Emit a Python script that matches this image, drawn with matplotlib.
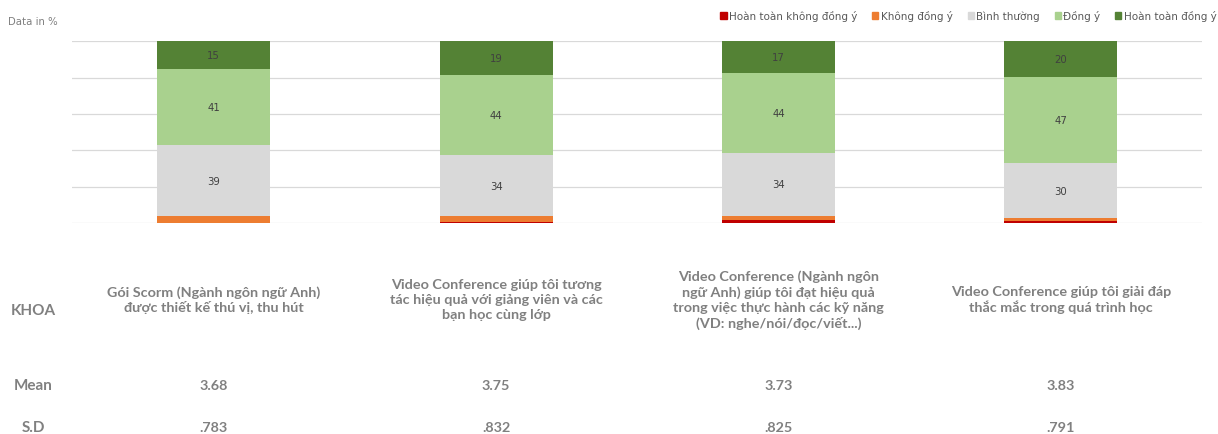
import matplotlib.pyplot as plt
from matplotlib.patches import Patch
from matplotlib.transforms import blended_transform_factory

# survey items (table header row)
items = [
    "Gói Scorm (Ngành ngôn ngữ Anh)\nđược thiết kế thú vị, thu hút",
    "Video Conference giúp tôi tương\ntác hiệu quả với giảng viên và các\nbạn học cùng lớp",
    "Video Conference (Ngành ngôn\nngữ Anh) giúp tôi đạt hiệu quả\ntrong việc thực hành các kỹ năng\n(VD: nghe/nói/đọc/viết...)",
    "Video Conference giúp tôi giải đáp\nthắc mắc trong quá trình học",
]
levels = ["Hoàn toàn không đồng ý", "Không đồng ý", "Bình thường", "Đồng ý", "Hoàn toàn đồng ý"]

# percentages per level, one value per item
strongly_disagree = [0.0, 0.8, 2.0, 1.0]
disagree = [3.8, 3.0, 2.2, 2.0]
neutral = [39.4, 33.8, 34.3, 30.0]
agree = [41.4, 43.8, 44.2, 47.3]
strongly_agree = [15.4, 18.6, 17.3, 19.7]

means = ["3.68", "3.75", "3.73", "3.83"]
sds = [".783", ".832", ".825", ".791"]

colors = ["#C00000", "#ED7D31", "#D9D9D9", "#A9D18E", "#548235"]
labelled = [False, False, True, True, True]
series = [strongly_disagree, disagree, neutral, agree, strongly_agree]

fig = plt.figure(figsize=(12.18, 4.35), dpi=100)
ax = fig.add_axes([0.0595, 0.4844, 0.9275, 0.4184])

x = list(range(len(items)))
bottom = [0.0] * len(items)
for vals, col, lab in zip(series, colors, labelled):
    ax.bar(x, vals, width=0.4, bottom=bottom, color=col, zorder=3)
    if lab:
        for xi, v, b in zip(x, vals, bottom):
            ax.text(xi, b + v / 2, f"{v:.0f}", ha="center", va="center",
                    fontsize=7.3, color="#404040", zorder=4)
    bottom = [b + v for b, v in zip(bottom, vals)]

ax.set_xlim(-0.5, len(items) - 0.5)
ax.set_ylim(0, 100)
ax.set_yticks([0, 20, 40, 60, 80, 100])
ax.yaxis.grid(True, color="#D9D9D9", lw=0.9, zorder=0)
ax.tick_params(left=False, bottom=False, labelleft=False, labelbottom=False)
for s in ax.spines.values():
    s.set_visible(False)

fig.text(0.0066, 0.949, "Data in %", fontsize=7.3, color="#7F7F7F", va="center")

handles = [Patch(color=c) for c in colors]
fig.legend(handles, levels, loc="center right", bbox_to_anchor=(0.999, 0.961),
           ncol=5, frameon=False, fontsize=7.5, handlelength=0.6, handleheight=0.6,
           handletextpad=0.25, columnspacing=1.4, borderaxespad=0, borderpad=0,
           labelcolor="#595959")

# table under the chart
face = ["Lato", "Liberation Sans"]
tr = blended_transform_factory(ax.transData, fig.transFigure)
txt = dict(family=face, fontsize=10.4, fontweight="bold", color="#808080",
           ha="center", va="center", transform=tr, linespacing=1.27)
row = dict(family=face, fontsize=11, fontweight="bold", color="#808080",
           ha="center", va="center")
fig.text(0.0275, 0.285, "KHOA", **row)
fig.text(0.0275, 0.113, "Mean", **row)
fig.text(0.0275, 0.017, "S.D", **row)
for xi, item, m, sd in zip(x, items, means, sds):
    fig.text(xi, 0.31, item, **txt)
    fig.text(xi, 0.113, m, **txt)
    fig.text(xi, 0.017, sd, **txt)

fig.savefig("out.png", dpi=100)
plt.close()
